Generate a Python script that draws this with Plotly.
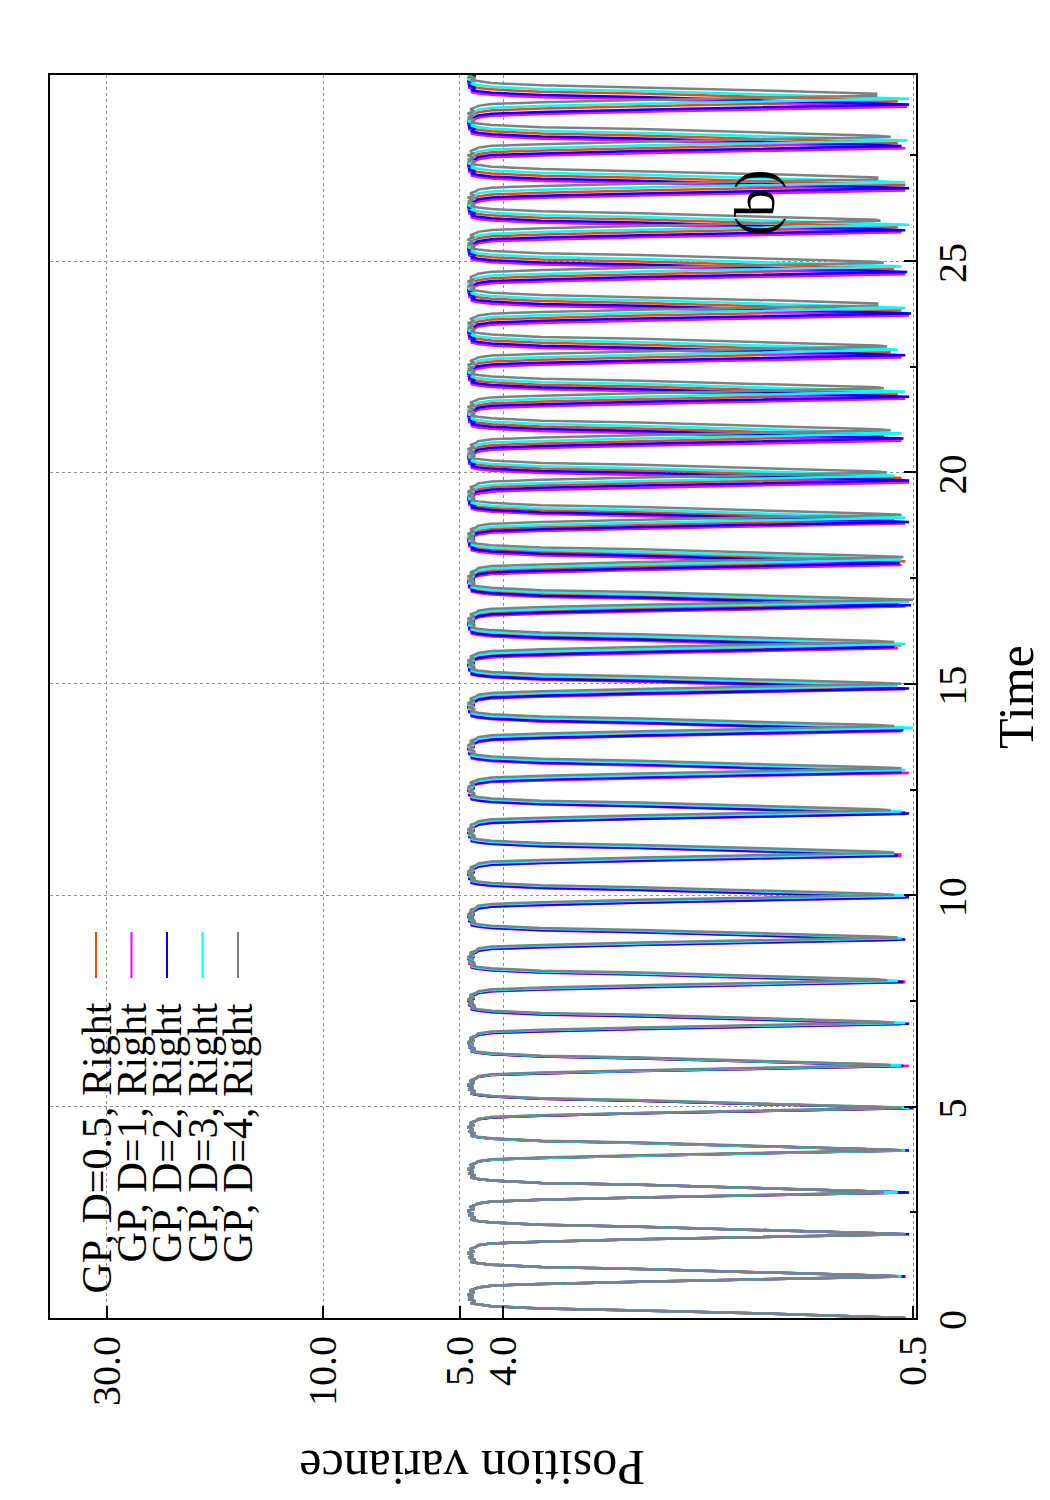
import math
import plotly.graph_objects as go

# ---------------- data ----------------
series_names = ["GP, D=0.5, Right", "GP, D=1, Right", "GP, D=2, Right",
                "GP, D=3, Right", "GP, D=4, Right"]
series_colors = ["#ff4500", "#ff00ff", "#0000ff", "#00ffff", "#808080"]

# times of the variance minima (first entry = start of the run)
dips_d05 = [0.00, 0.98, 1.98, 2.97, 3.96, 4.96, 5.97, 6.97, 7.96, 8.97, 9.97, 10.96, 11.96, 12.94, 13.93,
            14.93, 15.91, 16.90, 17.90, 18.88, 19.87, 20.86, 21.85, 22.84, 23.83, 24.81, 25.80, 26.79, 27.79, 28.78]
dips_d1 = [0.00, 0.98, 1.98, 2.97, 3.96, 4.96, 5.96, 6.95, 7.94, 8.94, 9.94, 10.93, 11.92, 12.89, 13.88,
           14.87, 15.84, 16.83, 17.81, 18.79, 19.76, 20.75, 21.74, 22.72, 23.71, 24.69, 25.68, 26.67, 27.67, 28.65]
dips_d2 = [0.00, 0.98, 1.98, 2.97, 3.96, 4.96, 5.96, 6.96, 7.95, 8.95, 9.95, 10.94, 11.93, 12.91, 13.90,
           14.89, 15.87, 16.86, 17.85, 18.83, 19.81, 20.80, 21.79, 22.77, 23.76, 24.74, 25.73, 26.72, 27.72, 28.70]
dips_d3 = [0.00, 0.98, 1.98, 2.97, 3.96, 4.97, 5.97, 6.98, 7.97, 8.98, 9.99, 10.98, 11.98, 12.96, 13.96,
           14.96, 15.94, 16.94, 17.94, 18.93, 19.92, 20.92, 21.91, 22.90, 23.89, 24.87, 25.86, 26.86, 27.85, 28.84]
dips_d4 = [0.00, 0.98, 1.98, 2.97, 3.97, 4.97, 5.98, 6.99, 7.99, 9.00, 10.01, 11.01, 12.01, 13.00, 14.00,
           15.00, 15.99, 16.99, 18.00, 19.00, 20.00, 21.00, 21.99, 22.98, 23.97, 24.96, 25.95, 26.95, 27.94, 28.93]

# variance at each minimum
mins_d05 = [0.52, 0.52, 0.53, 0.52, 0.54, 0.52, 0.53, 0.54, 0.52, 0.53, 0.55, 0.53, 0.52, 0.54, 0.53,
            0.55, 0.53, 0.54, 0.52, 0.55, 0.53, 0.58, 0.54, 0.56, 0.53, 0.55, 0.54, 0.52, 0.54, 0.54]
mins_d1 = [0.52, 0.52, 0.52, 0.53, 0.52, 0.53, 0.51, 0.53, 0.52, 0.54, 0.52, 0.53, 0.52, 0.51, 0.53,
           0.52, 0.54, 0.52, 0.53, 0.52, 0.51, 0.53, 0.52, 0.53, 0.51, 0.52, 0.53, 0.52, 0.52, 0.515]
mins_d2 = [0.52, 0.52, 0.51, 0.51, 0.51, 0.50, 0.525, 0.51, 0.525, 0.52, 0.51, 0.54, 0.51, 0.53, 0.525,
           0.51, 0.55, 0.505, 0.535, 0.51, 0.51, 0.525, 0.51, 0.52, 0.505, 0.515, 0.52, 0.51, 0.53, 0.51]
mins_d3 = [0.52, 0.53, 0.52, 0.54, 0.52, 0.51, 0.53, 0.52, 0.54, 0.53, 0.52, 0.55, 0.53, 0.52, 0.50,
           0.54, 0.52, 0.51, 0.53, 0.52, 0.55, 0.53, 0.52, 0.54, 0.52, 0.53, 0.51, 0.52, 0.515, 0.51]
mins_d4 = [0.52, 0.54, 0.52, 0.58, 0.53, 0.53, 0.56, 0.55, 0.57, 0.54, 0.55, 0.55, 0.56, 0.53, 0.55,
           0.53, 0.55, 0.50, 0.525, 0.53, 0.57, 0.56, 0.58, 0.57, 0.60, 0.58, 0.59, 0.60, 0.56, 0.61]

# shape of one cycle around a minimum (time offset from minimum, variance)
decline_dt = [-0.26, -0.215, -0.175, -0.12, -0.058, -0.018]
decline_v = [4.55, 4.25, 3.3, 2.0, 1.02, 0.6]
rise_dt = [0.024, 0.10, 0.18, 0.225, 0.28, 0.315]
rise_v = [0.6, 1.02, 2.0, 3.3, 4.25, 4.55]
plateau_dt = [0.35, 0.40, 0.45, 0.50, 0.55, 0.60, 0.65, 0.70]
plateau_v = [4.72, 4.62, 4.78, 4.66, 4.80, 4.64, 4.74, 4.60]

time_max = 29.4
var_ticks = [0.5, 4.0, 5.0, 10.0, 30.0]
var_ticktext = ["0.5", "4.0", "5.0", "10.0", "30.0"]
time_ticks = [0, 5, 10, 15, 20, 25]
time_minor = [2.5, 7.5, 12.5, 17.5, 22.5, 27.5]

all_dips = [dips_d05, dips_d1, dips_d2, dips_d3, dips_d4]
all_mins = [mins_d05, mins_d1, mins_d2, mins_d3, mins_d4]


def assemble(dips, mins):
    ts, vs = [], []
    for i, (d, m) in enumerate(zip(dips, mins)):
        if i > 0:
            ts += [d + o for o in decline_dt]
            vs += decline_v
        ts.append(d)
        vs.append(m)
        ts += [d + o for o in rise_dt]
        vs += rise_v
        ts += [d + o for o in plateau_dt]
        vs += plateau_v
    pts = [(t, v) for t, v in zip(ts, vs) if 0 <= t <= time_max]
    return [p[0] for p in pts], [p[1] for p in pts]


FONT = "Liberation Serif"
fig = go.Figure()
for name, color, dips, mins in zip(series_names, series_colors, all_dips, all_mins):
    t, v = assemble(dips, mins)
    fig.add_trace(go.Scatter(x=v, y=t, mode="lines", name=name,
                             line=dict(color=color, width=2.5), showlegend=False))

# plot area in pixels: x 50..916, y 75..1318
W, H = 1050, 1500
L, R, T, B = 50, 134, 75, 182
pw, ph = W - L - R, H - T - B


def px(xp):
    return (xp - L) / pw


def py(yp):
    return (H - B - yp) / ph


annotations = []
shapes = []
leg_x = [96, 131.5, 167, 202.5, 238]
for i, (name, color) in enumerate(zip(series_names, series_colors)):
    annotations.append(dict(xref="paper", yref="paper", x=px(leg_x[i]), y=py(1001),
                            text=name, showarrow=False, textangle=-90,
                            xanchor="center", yanchor="top",
                            font=dict(family=FONT, size=42, color="black")))
    shapes.append(dict(type="line", xref="paper", yref="paper",
                       x0=px(leg_x[i]), x1=px(leg_x[i]), y0=py(932), y1=py(978),
                       line=dict(color=color, width=2)))

annotations.append(dict(xref="paper", yref="paper", x=px(755), y=py(203), text="(b)",
                        showarrow=False, textangle=-90, xanchor="center", yanchor="middle",
                        font=dict(family=FONT, size=57, color="black")))
annotations.append(dict(xref="paper", yref="paper", x=px(1016), y=py(697), text="Time",
                        showarrow=False, textangle=-90, xanchor="center", yanchor="middle",
                        font=dict(family=FONT, size=50, color="black")))
annotations.append(dict(xref="paper", yref="paper", x=px(472), y=py(1468), text="Position variance",
                        showarrow=False, textangle=180, xanchor="center", yanchor="middle",
                        font=dict(family=FONT, size=50, color="black")))

grid = dict(showgrid=True, gridcolor="#8c8c8c", griddash="dot", gridwidth=1)
fig.update_layout(
    width=W, height=H,
    margin=dict(l=L, r=R, t=T, b=B),
    paper_bgcolor="white", plot_bgcolor="white",
    showlegend=False,
    xaxis=dict(type="log", range=[math.log10(40), math.log10(0.4925)],
               tickvals=var_ticks, ticktext=var_ticktext, tickangle=-90,
               ticks="inside", ticklen=12, tickwidth=2, tickcolor="black",
               showline=True, linecolor="black", linewidth=2, mirror=True,
               zeroline=False, tickfont=dict(family=FONT, size=40, color="black"), **grid),
    yaxis=dict(range=[0, time_max], side="right", tickvals=time_ticks,
               ticktext=[str(v) for v in time_ticks], tickangle=-90,
               ticks="inside", ticklen=12, tickwidth=2, tickcolor="black",
               minor=dict(tickvals=time_minor, ticks="inside", ticklen=6, tickwidth=2,
                          tickcolor="black", showgrid=False),
               ticklabelshift=8,
               showline=True, linecolor="black", linewidth=2, mirror=True,
               zeroline=False, tickfont=dict(family=FONT, size=40, color="black"), **grid),
    annotations=annotations,
    shapes=shapes,
)

fig.write_html("out.html")
